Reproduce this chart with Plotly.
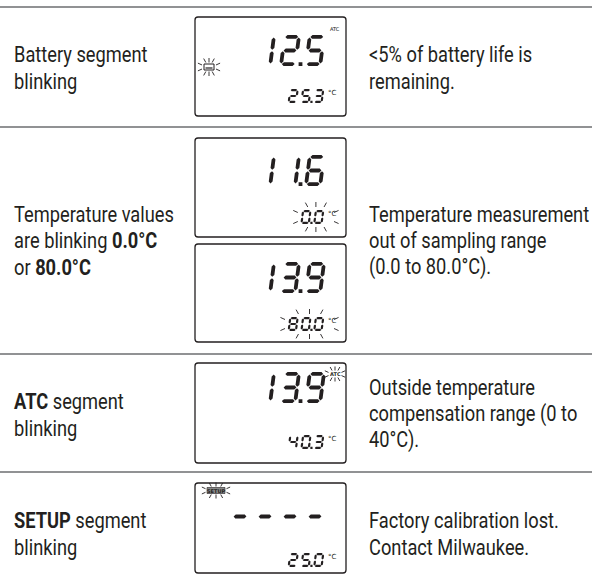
import plotly.graph_objects as go

# ---------------- data ----------------
conditions = [
    ["Battery segment", "blinking"],
    ["Temperature values", "are blinking <b>0.0°C</b>", "or <b>80.0°C</b>"],
    ["<b>ATC</b> segment", "blinking"],
    ["<b>SETUP</b> segment", "blinking"],
]
explanations = [
    ["&lt;5% of battery life is", "remaining."],
    ["Temperature measurement", "out of sampling range", "(0.0 to 80.0°C)."],
    ["Outside temperature", "compensation range (0 to", "40°C)."],
    ["Factory calibration lost.", "Contact Milwaukee."],
]
lcd_main = ["12.5", "11.6", "13.9", "13.9", "----"]
lcd_temp = ["25.3", "0.0", "80.0", "40.3", "25.0"]
lcd_blink = ["battery", "temp", "temp", "atc", "setup"]
lcd_atc_on = [True, False, False, True, False]

# ---------------- layout constants ----------------
W_PX, H_PX = 592, 587
TXT = "#231f20"
FONT = "Roboto, Arial, sans-serif"
FS = 22
LINE = 26.5
rules_y = [7, 127, 354, 472]
row_center_left = [68, 240.5, 415, 534]
row_center_right = [68, 240.5, 413.5, 534]
box_x0, box_x1 = 195, 346
boxes = [(17, 116), (138, 237), (244, 342), (363, 463), (483, 573)]
main_top_off = [18, 17, 18, 9, 18]
temp_bot_off = [13, 13, 11, 14, 6]

SEGS = {'0': 'abcdef', '1': 'bc', '2': 'abdeg', '3': 'abcdg', '4': 'bcfg',
        '5': 'acdfg', '6': 'acdefg', '7': 'abc', '8': 'abcdefg',
        '9': 'abcdfg', '-': 'g', ' ': ''}


def seg_path(ch, x0, yb, W, H, t, s, gap):
    h = t / 2.0
    xl, xr = h, W - h
    vb, vm, vt = h, H / 2.0, H - h
    tr = lambda u, v: (x0 + u + s * v, yb - v)

    def hor(a0, a1, v):
        return [(a0, v), (a0 + h, v + h), (a1 - h, v + h), (a1, v), (a1 - h, v - h), (a0 + h, v - h)]

    def ver(u, a0, a1):
        return [(u, a0), (u + h, a0 + h), (u + h, a1 - h), (u, a1), (u - h, a1 - h), (u - h, a0 + h)]

    geo = {
        'a': hor(xl + gap, xr - gap, vt),
        'd': hor(xl + gap, xr - gap, vb),
        'g': hor(xl + gap, xr - gap, vm),
        'f': ver(xl, vm + gap, vt - gap),
        'e': ver(xl, vb + gap, vm - gap),
        'b': ver(xr, vm + gap, vt - gap),
        'c': ver(xr, vb + gap, vm - gap),
    }
    out = ""
    for sg in SEGS[ch]:
        pts = [tr(u, v) for u, v in geo[sg]]
        out += "M" + " L".join(f"{x:.2f},{y:.2f}" for x, y in pts) + " Z "
    return out


def display_path(text, ncells, x_first, pitch, yb, W, H, t, s):
    cells = []
    for ch in text:
        if ch == '.':
            if cells:
                cells[-1][1] = True
        else:
            cells.append([ch, False])
    cells = [[' ', False]] * (ncells - len(cells)) + cells
    path = ""
    lit = []
    for i, (ch, dp) in enumerate(cells):
        x0 = x_first + i * pitch
        path += seg_path(ch, x0, yb, W, H, t, s, gap=t * 0.18)
        if ch != ' ':
            lit.append(x0)
        if dp:
            dx = x0 + W + (pitch - W) / 2.0 - t / 2.0
            path += f"M{dx:.2f},{yb:.2f} L{dx + t:.2f},{yb:.2f} L{dx + t:.2f},{yb - t:.2f} L{dx:.2f},{yb - t:.2f} Z "
    return path, (min(lit) if lit else None)


def rays_path(xa, ya, xb, yb, L):
    cx = (xa + xb) / 2.0
    cy = (ya + yb) / 2.0
    hw = (xb - xa) / 2.0
    hh = (yb - ya) / 2.0
    segs = []
    for k in (-1, 0, 1):
        sx = cx + k * hw * 0.45
        dx = k * 0.55
        n = (dx * dx + 1) ** 0.5
        segs.append((sx, ya, sx + L * dx / n, ya - L / n))
        segs.append((sx, yb, sx + L * dx / n, yb + L / n))
    for k in (-1, 1):
        sy = cy + k * hh * 0.45
        dy = k * 0.45
        n = (dy * dy + 1) ** 0.5
        segs.append((xa, sy, xa - L / n, sy + L * dy / n))
        segs.append((xb, sy, xb + L / n, sy + L * dy / n))
    p = ""
    for x1, y1, x2, y2 in segs:
        p += f"M{x1:.2f},{y1:.2f} L{x2:.2f},{y2:.2f} "
    return p


fig = go.Figure()
shapes = []
annotations = []

# horizontal rules
for y in rules_y:
    shapes.append(dict(type="line", x0=0, x1=W_PX, y0=y, y1=y,
                       line=dict(color="#6d6e71", width=1.5)))

# text columns
for i in range(len(conditions)):
    for lines, centers, xpos in ((conditions[i], row_center_left, 12),
                                 (explanations[i], row_center_right, 367)):
        n = len(lines)
        for j, ln in enumerate(lines):
            y = centers[i] + (j - (n - 1) / 2.0) * LINE
            annotations.append(dict(x=xpos, y=y, text=ln, showarrow=False,
                                    xanchor="left", yanchor="middle",
                                    font=dict(family=FONT, size=FS, color=TXT)))

# LCD panels
MAIN = dict(W=18, H=31, t=3.8, s=0.13, pitch=25, first=229, n=4)
TEMP = dict(W=9.5, H=14, t=2.2, s=0.13, pitch=12.8, first=287.5, n=3)
r = 3
for k, (ty, by) in enumerate(boxes):
    p = (f"M{box_x0 + r},{ty} L{box_x1 - r},{ty} Q{box_x1},{ty} {box_x1},{ty + r} "
         f"L{box_x1},{by - r} Q{box_x1},{by} {box_x1 - r},{by} L{box_x0 + r},{by} "
         f"Q{box_x0},{by} {box_x0},{by - r} L{box_x0},{ty + r} Q{box_x0},{ty} {box_x0 + r},{ty} Z")
    shapes.append(dict(type="path", path=p, line=dict(color=TXT, width=1.3), fillcolor="rgba(0,0,0,0)"))

    yb_main = ty + main_top_off[k] + MAIN["H"]
    mp, _ = display_path(lcd_main[k], MAIN["n"], MAIN["first"], MAIN["pitch"], yb_main,
                         MAIN["W"], MAIN["H"], MAIN["t"], MAIN["s"])
    shapes.append(dict(type="path", path=mp, fillcolor=TXT, line=dict(width=0)))

    yb_t = by - temp_bot_off[k]
    tp, tleft = display_path(lcd_temp[k], TEMP["n"], TEMP["first"], TEMP["pitch"], yb_t,
                             TEMP["W"], TEMP["H"], TEMP["t"], TEMP["s"])
    shapes.append(dict(type="path", path=tp, fillcolor=TXT, line=dict(width=0)))
    annotations.append(dict(x=325.5, y=yb_t - TEMP["H"] + 3.5, text="°C", showarrow=False,
                            xanchor="left", yanchor="middle",
                            font=dict(family="DejaVu Sans", size=7, color=TXT)))

    if lcd_atc_on[k] and lcd_blink[k] != "atc":
        annotations.append(dict(x=335, y=ty + 12, text="ATC", showarrow=False,
                                xanchor="center", yanchor="middle",
                                font=dict(family="DejaVu Sans", size=5, color="#000000")))

    kind = lcd_blink[k]
    if kind == "battery":
        cx, cy = 209, ty + 50
        shapes.append(dict(type="rect", x0=cx - 5, x1=cx + 5, y0=cy - 3, y1=cy + 3,
                           line=dict(color=TXT, width=1), fillcolor="white"))
        shapes.append(dict(type="line", x0=cx - 3.5, x1=cx + 3.5, y0=cy + 1, y1=cy + 1,
                           line=dict(color=TXT, width=1.2)))
        shapes.append(dict(type="path", path=rays_path(cx - 7, cy - 4.5, cx + 7, cy + 4.5, 4.5),
                           line=dict(color=TXT, width=0.9)))
    elif kind == "temp":
        xa = tleft - 2.5
        xb = 334
        ya = yb_t - TEMP["H"] - 3
        yb2 = yb_t + 3
        shapes.append(dict(type="path", path=rays_path(xa, ya, xb, yb2, 5),
                           line=dict(color=TXT, width=0.9)))
    elif kind == "atc":
        cx, cy = 335, ty + 11
        annotations.append(dict(x=cx, y=cy, text="<b>ATC</b>", showarrow=False,
                                xanchor="center", yanchor="middle",
                                font=dict(family="DejaVu Sans", size=5, color=TXT)))
        shapes.append(dict(type="path", path=rays_path(cx - 6.5, cy - 3.5, cx + 6.5, cy + 3.5, 4),
                           line=dict(color=TXT, width=0.9)))
    elif kind == "setup":
        cx, cy = 216, ty + 7.5
        shapes.append(dict(type="rect", x0=cx - 9, x1=cx + 9, y0=cy - 3, y1=cy + 3,
                           line=dict(color=TXT, width=0.6), fillcolor="#888"))
        annotations.append(dict(x=cx, y=cy, text="<b>SETUP</b>", showarrow=False,
                                xanchor="center", yanchor="middle",
                                font=dict(family="DejaVu Sans", size=5, color=TXT)))
        shapes.append(dict(type="path", path=rays_path(cx - 10.5, cy - 4, cx + 10.5, cy + 4, 4),
                           line=dict(color=TXT, width=0.9)))

fig.update_layout(
    width=W_PX, height=H_PX,
    margin=dict(l=0, r=0, t=0, b=0),
    paper_bgcolor="white", plot_bgcolor="white",
    xaxis=dict(range=[0, W_PX], visible=False, fixedrange=True),
    yaxis=dict(range=[H_PX, 0], visible=False, fixedrange=True),
    shapes=shapes, annotations=annotations, showlegend=False,
)

# page reset + condensed rendering of the body text (the source uses a narrow typeface)
post = """
document.body.style.margin='0';
document.body.style.padding='0';
document.body.style.overflow='hidden';
var gd = document.getElementById('{plot_id}');
gd.querySelectorAll('g.annotation').forEach(function(a){
  var t = a.querySelector('text.annotation-text');
  if(!t) return;
  var fs = parseFloat(t.style.fontSize || '0');
  if (fs < 15) return;
  var bb = t.getBBox();
  var x0 = bb.x;
  var old = t.getAttribute('transform') || '';
  t.setAttribute('transform', old + ' translate(' + x0 + ',0) scale(0.83,1) translate(' + (-x0) + ',0)');
});
"""
fig.write_html("out.html", config={"displayModeBar": False}, post_script=post)
